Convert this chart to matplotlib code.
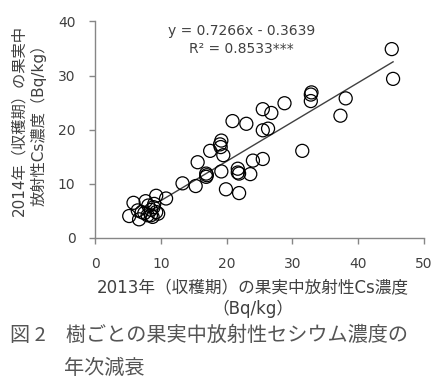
import matplotlib
matplotlib.use("Agg")
import matplotlib.pyplot as plt
import numpy as np

plt.rcParams['font.family'] = ['DejaVu Sans', 'Noto Sans CJK JP']

# 2013 (x) and 2014 (y) fruit radiocesium concentrations (Bq/kg)
x2013 = [45.1, 45.3, 32.9, 32.8, 32.8, 38.1, 37.3, 28.8, 25.5, 26.8, 25.5, 26.3,
         20.9, 23.0, 31.5, 19.2, 19.0, 19.1, 17.5, 19.5, 15.6, 24.0, 25.5, 16.9,
         16.9, 17.0, 19.2, 21.7, 21.7, 21.9, 23.6, 19.9, 21.9, 15.3, 13.3, 10.8,
         9.3, 5.85, 7.7, 5.2, 6.7, 7.1, 8.1, 8.5, 8.9, 8.5, 9.3, 9.6, 7.5, 8.0,
         9.0, 8.75, 6.5]
y2014 = [34.9, 29.4, 26.9, 26.5, 25.3, 25.8, 22.6, 24.9, 23.8, 23.1, 19.9, 20.2,
         21.6, 21.1, 16.1, 18.0, 17.3, 16.8, 16.1, 15.3, 14.0, 14.3, 14.6, 11.9,
         11.3, 11.6, 12.3, 12.8, 12.1, 11.9, 11.8, 9.0, 8.3, 9.6, 10.1, 7.3,
         7.8, 6.5, 6.8, 4.06, 3.45, 4.8, 6.0, 5.2, 5.7, 4.2, 4.8, 4.5, 4.6, 4.2,
         6.3, 3.9, 5.1]
slope = 0.7266
intercept = -0.3639
r2_text = "R² = 0.8533***"
eq_text = "y = 0.7266x - 0.3639"
xticks = [0, 10, 20, 30, 40, 50]
yticks = [0, 10, 20, 30, 40]
xlabel = "2013年（収穫期）の果実中放射性Cs濃度\n（Bq/kg）"
ylabel = "2014年（収穫期）の果実中\n放射性Cs濃度（Bq/kg）"
caption1 = "図 2　樹ごとの果実中放射性セシウム濃度の"
caption2 = "年次減衰"

W, H = 436, 380
fig = plt.figure(figsize=(W / 100, H / 100), dpi=100)
ax = fig.add_axes([95 / W, 1 - 238 / H, (424 - 95) / W, (238 - 21.5) / H])

tc = '#404040'
ax.scatter(x2013, y2014, s=88, facecolors='none', edgecolors='black', linewidths=0.9, zorder=3)
xl = np.array([9.5, max(x2013)])
ax.plot(xl, slope * xl + intercept, color='#404040', lw=1.0, zorder=2)

ax.set_xlim(0, 50)
ax.set_ylim(0, 40)
ax.set_xticks(xticks)
ax.set_yticks(yticks)
for s in ['top', 'right']:
    ax.spines[s].set_visible(False)
for s in ['left', 'bottom']:
    ax.spines[s].set_color('#868686')
    ax.spines[s].set_linewidth(1.0)
ax.tick_params(axis='both', direction='out', length=4, width=1.0, color='#868686',
               labelsize=10, labelcolor=tc)
ax.tick_params(axis='x', pad=10)
ax.tick_params(axis='y', pad=10)

ax.text(0.445, 0.955, eq_text, transform=ax.transAxes, ha='center', va='center', fontsize=10, color=tc)
ax.text(0.445, 0.872, r2_text, transform=ax.transAxes, ha='center', va='center', fontsize=10, color=tc)

fig.text(253 / W, 1 - 298.5 / H, xlabel, ha='center', va='center', multialignment='center',
         fontsize=12, color=tc, linespacing=1.2)
fig.text(29 / W, 1 - 121 / H, ylabel, ha='center', va='center', multialignment='center',
         rotation=90, fontsize=11, color=tc, linespacing=1.25)

fig.text(10 / W, 1 - 335 / H, caption1, ha='left', va='center', fontsize=14.5, color='#555555',
         family=['Noto Sans CJK JP', 'DejaVu Sans'])
fig.text(64 / W, 1 - 368 / H, caption2, ha='left', va='center', fontsize=14.5, color='#555555',
         family=['Noto Sans CJK JP', 'DejaVu Sans'])

fig.savefig('out.png', dpi=100)
